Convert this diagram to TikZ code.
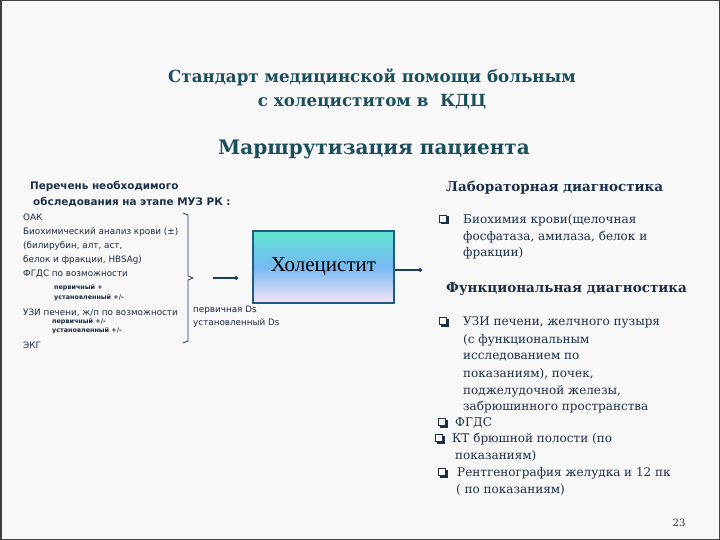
\documentclass[tikz,border=0pt]{standalone}
\usepackage{fontspec}
\setmainfont{DejaVu Serif}
\setsansfont{DejaVu Sans}
\newfontfamily\lserif{Liberation Serif}
\usetikzlibrary{arrows.meta}
\definecolor{titlec}{HTML}{1B4E5C}
\definecolor{headc}{HTML}{1C2F48}
\definecolor{bodyc}{HTML}{1A2A42}
\definecolor{linec}{HTML}{1E3A5F}
\definecolor{boxborder}{HTML}{1F5A82}
\definecolor{bgc}{HTML}{F8F8F8}
\tikzset{
  ttl/.style={font=\bfseries\fontsize{16.7}{19}\selectfont, text=titlec, inner sep=0},
  sub/.style={font=\bfseries\fontsize{20}{24}\selectfont, text=titlec, inner sep=0},
  lhead/.style={font=\sffamily\bfseries\fontsize{10.4}{12}\selectfont, text=headc, anchor=west, inner sep=0},
  litem/.style={font=\sffamily\fontsize{8.8}{10}\selectfont, text=bodyc, anchor=west, inner sep=0},
  lsmall/.style={font=\sffamily\bfseries\fontsize{6.4}{7}\selectfont, text=bodyc, anchor=west, inner sep=0},
  rhead/.style={font=\bfseries\fontsize{13.5}{16}\selectfont, text=headc, anchor=west, inner sep=0},
  ritem/.style={font=\fontsize{12}{14}\selectfont, text=headc, anchor=west, inner sep=0},
  conn/.style={draw=linec, line width=1.6pt, -{Circle[length=3.5pt]}},
  bulletbox/.style={draw=headc, fill=white, line width=1pt, minimum size=7.5pt, inner sep=0},
  bulletshadow/.style={fill=headc, minimum size=8pt, inner sep=0},
}
\newcommand{\bulat}[3]{%
  \node[bulletshadow] (#1s) at (#2+1.5,#3+1.5) {};
  \node[bulletbox] (#1) at (#2,#3) {};}
\begin{document}
\begin{tikzpicture}[x=1pt,y=-1pt]
\useasboundingbox (0,0) rectangle (720,540);
\draw[fill=bgc, draw=black!75, line width=1.5pt] (0.75,0.75) rectangle (719.25,539.25);

% titles
\node[ttl] (t1) at (372,77) {Стандарт медицинской помощи больным};
\node[ttl] (t2) at (372,102) {с холециститом в\ \ КДЦ};
\node[sub] (t3) at (374,149) {Маршрутизация пациента};

% left heading
\node[lhead] (lh1) at (30,186) {Перечень необходимого};
\node[lhead] (lh2) at (33,202) {обследования на этапе МУЗ РК :};

% left list
\node[litem] (l1) at (23,217) {ОАК};
\node[litem] (l2) at (23,232) {Биохимический анализ крови (±)};
\node[litem] (l3) at (23,246) {(билирубин, алт, аст,};
\node[litem] (l4) at (23,260) {белок и фракции, HBSAg)};
\node[litem] (l5) at (23,274) {ФГДС по возможности};
\node[lsmall] (l6) at (54,288) {первичный +};
\node[lsmall] (l7) at (54,298) {установленный +/-};
\node[litem] (l8) at (23,313) {УЗИ печени, ж/п по возможности};
\node[lsmall] (l9) at (52,322) {первичный +/-};
\node[lsmall] (l10) at (52,331) {установленный +/-};
\node[litem] (l11) at (23,345) {ЭКГ};

% brace
\draw[draw=linec, line width=0.8pt] (183,213) -- (188,215) -- (188,276) -- (193,278) -- (188,280) -- (188,341) -- (183,343);
\coordinate (bt) at (196,278);

% central box
\node[draw=boxborder, line width=1.6pt, minimum width=141pt, minimum height=72pt,
      top color={rgb,255:red,96;green,228;blue,208}, bottom color={rgb,255:red,246;green,228;blue,244},
      middle color={rgb,255:red,118;green,184;blue,242},
      font=\lserif\fontsize{21}{24}\selectfont, text=black] (box) at (323.5,267) {Холецистит};

\coordinate (la) at (213,278);
\coordinate (lb) at (238,278);
\draw[conn] (la) -- (lb);
\coordinate (ra) at (422,270);
\draw[conn] (box.east |- ra) -- (ra);

\node[litem] (ds1) at (193,310) {первичная Ds};
\node[litem] (ds2) at (193,323) {установленный Ds};

% right: lab
\node[rhead] (rh1) at (446,188) {Лабораторная диагностика};
\bulat{b1}{443}{219}
\node[ritem] (r1) at (463,220) {Биохимия крови(щелочная};
\node[ritem] (r2) at (463,237) {фосфатаза, амилаза, белок и};
\node[ritem] (r3) at (463,253) {фракции)};

% right: functional
\node[rhead] (rh2) at (446,289) {Функциональная диагностика};
\bulat{b2}{443}{321}
\node[ritem] (f1) at (463,322) {УЗИ печени, желчного пузыря};
\node[ritem] (f2) at (463,340) {(с функциональным};
\node[ritem] (f3) at (463,357) {исследованием по};
\node[ritem] (f4) at (463,374) {показаниям), почек,};
\node[ritem] (f5) at (463,391) {поджелудочной железы,};
\node[ritem] (f6) at (463,407) {забрюшинного пространства};
\bulat{b3}{442}{422}
\node[ritem] (f7) at (455,423) {ФГДС};
\bulat{b4}{439}{438}
\node[ritem] (f8) at (452,439) {КТ брюшной полости (по};
\node[ritem] (f9) at (455,456) {показаниям)};
\bulat{b5}{442}{472}
\node[ritem] (f10) at (457,473) {Рентгенография желудка и 12 пк};
\node[ritem] (f11) at (456,490) {( по показаниям)};

\node[font=\fontsize{10}{12}\selectfont, text=headc, inner sep=0] (pg) at (679,523) {23};
\end{tikzpicture}
\end{document}
